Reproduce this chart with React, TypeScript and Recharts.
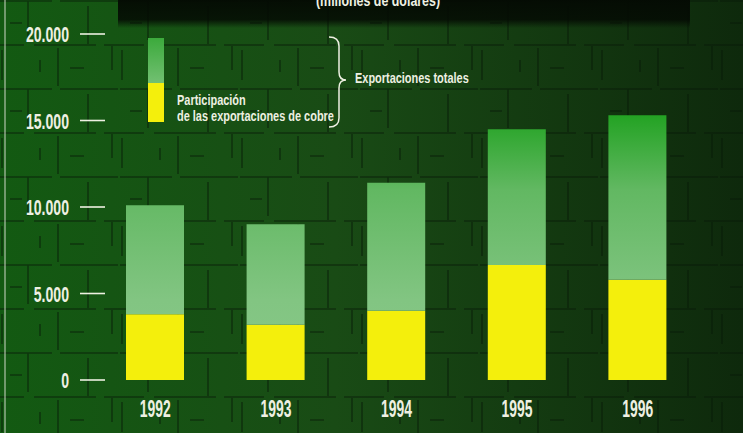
import React from "react";
import { Bar, BarChart, XAxis, YAxis } from "recharts";

const years = ["1992", "1993", "1994", "1995", "1996"];
const totalExports = [10100, 9000, 11400, 14500, 15300];
const copperExports = [3800, 3200, 4000, 6650, 5800];
const yTicks = [0, 5000, 10000, 15000, 20000];

const titleText = "(millones de dólares)";
const legendCopper = ["Participación", "de las exportaciones de cobre"];
const legendTotal = "Exportaciones totales";

const W = 743;
const H = 433;
const FONT = "'Liberation Sans', Arial, sans-serif";
const INK = "#eef0e2";
const YELLOW = "#f4ef0c";

const data = years.map((year, i) => ({
  year,
  cobre: copperExports[i],
  resto: totalExports[i] - copperExports[i],
}));

function fmt(v: number): string {
  return v.toString().replace(/\B(?=(\d{3})+(?!\d))/g, ".");
}

// condensed bold text, squeezed horizontally
function Cond({
  x,
  y,
  size,
  sx,
  anchor = "start",
  children,
}: {
  x: number;
  y: number;
  size: number;
  sx: number;
  anchor?: "start" | "middle" | "end";
  children: React.ReactNode;
}) {
  return (
    <text
      transform={`translate(${x} ${y}) scale(${sx} 1)`}
      textAnchor={anchor}
      fontFamily={FONT}
      fontWeight={700}
      fontSize={size}
      fill={INK}
    >
      {children}
    </text>
  );
}

function YTick(props: any) {
  const { y, payload } = props;
  return (
    <g>
      <line x1={80} x2={105} y1={y} y2={y} stroke={INK} strokeWidth={1.6} />
      <Cond x={69} y={y + 8} size={22} sx={0.64} anchor="end">
        {fmt(payload.value)}
      </Cond>
    </g>
  );
}

function XTick(props: any) {
  const { x, payload } = props;
  return (
    <Cond x={x} y={417} size={24} sx={0.58} anchor="middle">
      {payload.value}
    </Cond>
  );
}

function Background() {
  return (
    <svg width={W} height={H} style={{ position: "absolute", left: 0, top: 0 }}>
      <defs>
        <linearGradient id="bg" x1="0" y1="0" x2="1" y2="0">
          <stop offset="0%" stopColor="#135a12" />
          <stop offset="45%" stopColor="#194b15" />
          <stop offset="100%" stopColor="#0e290c" />
        </linearGradient>
        <pattern id="tex" width="120" height="88" patternUnits="userSpaceOnUse">
          <path
            d="M0 1 H52 M60 1 H118 M0 45 H24 M34 45 H96 M104 45 H120 M28 1 V40 M88 6 V44 M58 48 V86 M2 50 V80 M112 46 V70 M10 23 H22 M70 68 H84 M40 60 V72"
            stroke="#051705"
            strokeWidth={1.6}
            opacity={0.55}
            fill="none"
          />
        </pattern>
        <linearGradient id="topband" x1="0" y1="0" x2="0" y2="1">
          <stop offset="0%" stopColor="#040a03" stopOpacity={0.95} />
          <stop offset="70%" stopColor="#040a03" stopOpacity={0.85} />
          <stop offset="100%" stopColor="#040a03" stopOpacity={0} />
        </linearGradient>
      </defs>
      <rect width={W} height={H} fill="url(#bg)" />
      <rect width={W} height={H} fill="url(#tex)" />
      <rect x={118} y={0} width={572} height={28} fill="url(#topband)" />
      <rect x={4} y={0} width={2} height={H} fill="#cfd8c8" opacity={0.5} />
    </svg>
  );
}

function LegendLayer() {
  return (
    <svg
      width={W}
      height={H}
      style={{ position: "absolute", left: 0, top: 0, pointerEvents: "none" }}
    >
      <defs>
        <linearGradient id="swatch" x1="0" y1="0" x2="0" y2="1">
          <stop offset="0%" stopColor="#3caa3c" />
          <stop offset="100%" stopColor="#72c072" />
        </linearGradient>
      </defs>
      <Cond x={378} y={6} size={17} sx={0.73} anchor="middle">
        {titleText}
      </Cond>
      <rect x={148} y={38} width={16} height={45} fill="url(#swatch)" />
      <rect x={148} y={83} width={16} height={39} fill={YELLOW} />
      <Cond x={177} y={105} size={15} sx={0.73}>
        {legendCopper[0]}
      </Cond>
      <Cond x={177} y={121} size={15} sx={0.73}>
        {legendCopper[1]}
      </Cond>
      <path
        d="M329 37 Q339 37 339 46 V72 Q339 80 346 80 Q339 80 339 88 V118 Q339 127 329 127"
        fill="none"
        stroke={INK}
        strokeWidth={1.5}
      />
      <Cond x={355} y={83} size={15} sx={0.73}>
        {legendTotal}
      </Cond>
    </svg>
  );
}

export default function App() {
  return (
    <div style={{ position: "absolute", left: 0, top: 0, width: W, height: H }}>
      <Background />
      <div style={{ position: "absolute", left: 0, top: 0 }}>
        <BarChart
          width={W}
          height={H}
          data={data}
          margin={{ top: 34, right: 45, bottom: 0, left: 0 }}
          barSize={58}
        >
          <defs>
            <linearGradient
              id="greenBar"
              gradientUnits="userSpaceOnUse"
              x1="0"
              y1="34"
              x2="0"
              y2="380"
            >
              <stop offset="0%" stopColor="#159c15" />
              <stop offset="23%" stopColor="#22a222" />
              <stop offset="45%" stopColor="#62b862" />
              <stop offset="77%" stopColor="#82c582" />
              <stop offset="100%" stopColor="#88c888" />
            </linearGradient>
          </defs>
          <XAxis
            dataKey="year"
            height={53}
            axisLine={false}
            tickLine={false}
            tick={<XTick />}
            interval={0}
          />
          <YAxis
            width={95}
            domain={[0, 20000]}
            ticks={yTicks}
            axisLine={false}
            tickLine={false}
            tick={<YTick />}
            interval={0}
          />
          <Bar dataKey="cobre" stackId="a" fill={YELLOW} isAnimationActive={false} />
          <Bar dataKey="resto" stackId="a" fill="url(#greenBar)" isAnimationActive={false} />
        </BarChart>
      </div>
      <LegendLayer />
    </div>
  );
}
